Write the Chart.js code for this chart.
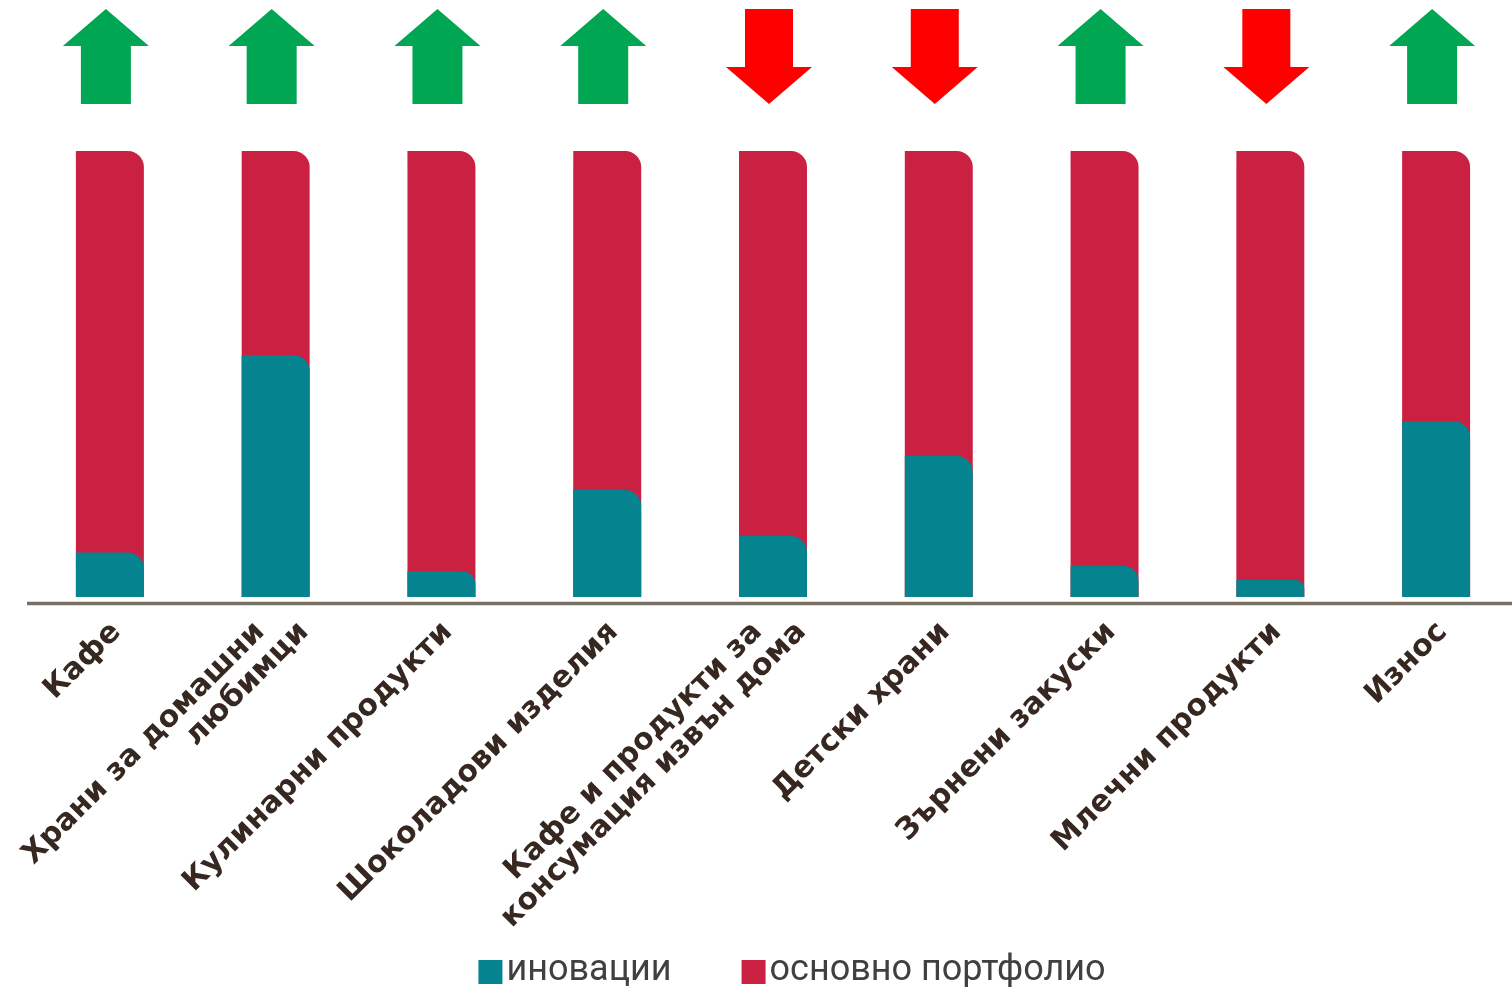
<!DOCTYPE html>
<html>
<head>
<meta charset="utf-8">
<script src="https://cdn.jsdelivr.net/npm/chart.js@4.4.1/dist/chart.umd.min.js"></script>
<style>
  html, body { margin: 0; padding: 0; background: #fff; overflow: hidden; }
  .chart-wrap { width: 1530px; height: 987px; }
</style>
</head>
<body>
<div class="chart-wrap"><canvas id="chart" width="1530" height="987"></canvas></div>
<script>
// categories (multi-line where the original wraps)
const categories = [
  ["Кафе"],
  ["Храни за домашни", "любимци"],
  ["Кулинарни продукти"],
  ["Шоколадови изделия"],
  ["Кафе и продукти за", "консумация извън дома"],
  ["Детски храни"],
  ["Зърнени закуски"],
  ["Млечни продукти"],
  ["Износ"]
];
const seriesNames = ["иновации", "основно портфолио"];
// share of sales, %
const innovation = [10, 54.2, 5.7, 24, 13.7, 31.6, 7, 3.8, 39.4];
const core = [90, 45.8, 94.3, 76, 86.3, 68.4, 93, 96.2, 60.6];
// arrow above each bar
const trend = ["up", "up", "up", "up", "down", "down", "up", "down", "up"];

const TEAL = "#05838f";
const RED = "#ca2042";

// draws axis line, rotated category labels, trend arrows and the legend
const decorPlugin = {
  id: "decor",
  afterDatasetsDraw(chart) {
    const { ctx, chartArea } = chart;
    const x = chart.scales.x;
    ctx.save();

    // base line
    ctx.strokeStyle = "#786e62";
    ctx.lineWidth = 3.5;
    ctx.beginPath();
    ctx.moveTo(chartArea.left, chartArea.bottom + 6.5);
    ctx.lineTo(chart.width, chartArea.bottom + 6.5);
    ctx.stroke();

    // category labels, 45 degrees
    ctx.font = 'bold 30px "DejaVu Sans"';
    ctx.fillStyle = "#362821";
    ctx.textAlign = "right";
    ctx.textBaseline = "alphabetic";
    chart.data.labels.forEach((lab, i) => {
      const lines = Array.isArray(lab) ? lab : [lab];
      const cx = x.getPixelForValue(i);
      lines.forEach((line, j) => {
        ctx.save();
        ctx.translate(cx + 12 + (j - (lines.length - 1) / 2) * 44, chartArea.bottom + 36);
        ctx.rotate(-Math.PI / 4);
        ctx.fillText(line, 0, 0);
        ctx.restore();
      });
    });

    // arrows
    trend.forEach((t, i) => {
      const cx = x.getPixelForValue(i) - 4;
      const top = 9, bottom = 104, head = 37;
      ctx.beginPath();
      if (t === "up") {
        ctx.fillStyle = "#00a651";
        ctx.moveTo(cx, top);
        ctx.lineTo(cx + 43, top + head);
        ctx.lineTo(cx + 25, top + head);
        ctx.lineTo(cx + 25, bottom);
        ctx.lineTo(cx - 25, bottom);
        ctx.lineTo(cx - 25, top + head);
        ctx.lineTo(cx - 43, top + head);
      } else {
        ctx.fillStyle = "#ff0000";
        ctx.moveTo(cx, bottom);
        ctx.lineTo(cx + 43, bottom - head);
        ctx.lineTo(cx + 24, bottom - head);
        ctx.lineTo(cx + 24, top);
        ctx.lineTo(cx - 24, top);
        ctx.lineTo(cx - 24, bottom - head);
        ctx.lineTo(cx - 43, bottom - head);
      }
      ctx.closePath();
      ctx.fill();
    });

    // legend
    ctx.font = '36px Roboto';
    ctx.textAlign = "left";
    const items = chart.data.datasets.map(d => ({ text: d.label, color: d.backgroundColor }));
    const widths = items.map(it => 24 + 4 + ctx.measureText(it.text).width);
    const total = widths.reduce((a, b) => a + b, 0) + 70 * (items.length - 1);
    let lx = (chartArea.left + chartArea.right) / 2 + 19 - total / 2;
    items.forEach((it, k) => {
      ctx.fillStyle = it.color;
      ctx.fillRect(lx, 960, 24, 24);
      ctx.fillStyle = "#404040";
      ctx.fillText(it.text, lx + 28, 980);
      lx += widths[k] + 70;
    });

    ctx.restore();
  }
};

const barShape = {
  grouped: false,
  barPercentage: 0.41,
  categoryPercentage: 1,
  borderSkipped: "start",
  borderRadius: { topLeft: 0, topRight: 16, bottomLeft: 0, bottomRight: 0 }
};

new Chart(document.getElementById("chart").getContext("2d"), {
  type: "bar",
  data: {
    labels: categories,
    datasets: [
      Object.assign({ label: seriesNames[0], data: innovation, backgroundColor: TEAL }, barShape),
      // portfolio bar sits on top of innovation, drawn from 0 so it shows behind the rounded corner
      Object.assign({
        label: seriesNames[1],
        data: innovation.map((v, i) => [0, v + core[i]]),
        backgroundColor: RED
      }, barShape)
    ]
  },
  options: {
    responsive: false,
    animation: false,
    layout: { padding: { top: 151, bottom: 390, left: 27, right: 11 } },
    scales: {
      x: { display: false },
      y: { display: false, min: 0, max: 100 }
    },
    plugins: {
      legend: { display: false },
      tooltip: { enabled: false }
    }
  },
  plugins: [decorPlugin]
});
</script>
</body>
</html>
